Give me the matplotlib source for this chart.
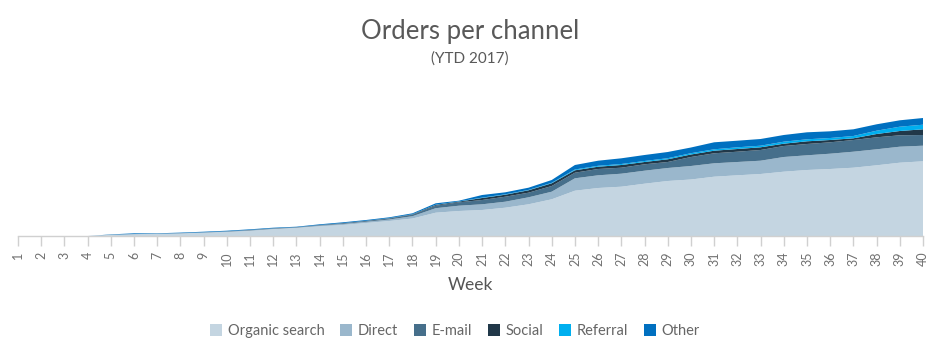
import matplotlib
matplotlib.use("Agg")
import matplotlib.pyplot as plt
from matplotlib.patches import Patch
import numpy as np

weeks = list(range(1, 41))
channels = ["Organic search", "Direct", "E-mail", "Social", "Referral", "Other"]
colors = ["#C4D5E1", "#9AB7CC", "#466F8B", "#213849", "#00AFEF", "#0070C0"]

organic = [0, 0, 0, 0, 10, 16, 19, 24, 31, 39, 50, 67, 80, 96, 110, 130, 150, 175, 233, 250,
           260, 283, 317, 367, 453, 480, 493, 523, 550, 565, 593, 607, 620, 643, 660, 670, 683, 707, 733, 747]
direct = [0, 0, 0, 0, 2, 3, 3, 3, 4, 5, 6, 5, 4, 8, 10, 12, 15, 23, 45, 53,
          57, 60, 70, 76, 124, 127, 130, 130, 130, 135, 134, 133, 133, 147, 147, 153, 160, 160, 160, 156]
email = [0, 0, 0, 0, 1, 1, 1, 2, 2, 3, 4, 4, 3, 5, 7, 8, 10, 15, 25, 34,
         43, 50, 46, 57, 56, 63, 60, 64, 60, 90, 100, 103, 107, 110, 113, 114, 117, 120, 114, 107]
social = [0, 0, 0, 0, 0, 0, 0, 0, 0, 0, 1, 1, 1, 1, 2, 2, 3, 4, 8, 7,
          20, 20, 24, 27, 24, 23, 27, 23, 27, 25, 26, 27, 27, 23, 27, 23, 17, 33, 43, 57]
referral = [0, 0, 0, 0, 0, 0, 0, 0, 0, 0, 0, 0, 0, 0, 0, 0, 1, 1, 2, 2,
            4, 4, 4, 5, 8, 9, 10, 10, 11, 13, 14, 17, 16, 20, 20, 20, 23, 33, 43, 46]
other = [0, 0, 0, 0, 3, 7, 4, 5, 6, 6, 6, 6, 5, 7, 8, 8, 8, 9, 14, 7,
         26, 20, 22, 28, 45, 51, 57, 60, 62, 57, 70, 66, 67, 67, 70, 67, 67, 64, 64, 67]

series = [organic, direct, email, social, referral, other]

FONT = ["Lato", "DejaVu Sans"]
W, H = 942, 358
fig = plt.figure(figsize=(W / 100, H / 100), dpi=100)
ax = fig.add_axes([18 / W, 122 / H, 905 / W, 156 / H])

ax.stackplot(weeks, *series, colors=colors, linewidth=0)
ax.set_xlim(1, 40)
ax.set_ylim(0, 1560)

for s in ["top", "right", "left"]:
    ax.spines[s].set_visible(False)
ax.spines["bottom"].set_color("#d0d0d0")
ax.spines["bottom"].set_linewidth(1)
ax.set_yticks([])
ax.set_xticks(weeks)
ax.set_xticklabels([str(w) for w in weeks], rotation=90, fontsize=9,
                   color="#707070", family=FONT)
ax.tick_params(axis="x", length=7, color="#d0d0d0", width=1, pad=4)

ax.set_xlabel("Week", fontsize=12.5, color="#555555", family=FONT, labelpad=8)

fig.text(470 / W, 1 - 31 / H, "Orders per channel", ha="center", va="center",
         fontsize=18.5, color="#595959", family=FONT)
fig.text(470 / W, 1 - 59 / H, "(YTD 2017)", ha="center", va="center",
         fontsize=11, color="#595959", family=FONT)

handles = [Patch(facecolor=c, edgecolor="none", label=l) for c, l in zip(colors, channels)]
leg = fig.legend(handles=handles, loc="center", bbox_to_anchor=(455 / W, 1 - 331 / H),
                 ncol=6, frameon=False, handlelength=0.8, handleheight=0.8,
                 handletextpad=0.4, columnspacing=1.1,
                 prop={"family": FONT, "size": 10.5})
for t in leg.get_texts():
    t.set_color("#666666")

fig.savefig("out.png", dpi=100)
